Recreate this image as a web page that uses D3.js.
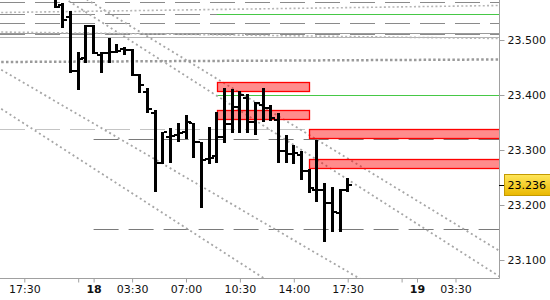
<!DOCTYPE html>
<html>
<head>
<meta charset="utf-8">
<script src="https://cdn.jsdelivr.net/npm/d3@7/dist/d3.min.js"></script>
<style>
  html, body { margin: 0; padding: 0; background: #fff; }
  svg { display: block; }
</style>
</head>
<body>
<svg id="chart" width="550" height="300"></svg>
<script>
// 30 minute bars
const barTimes = [
  "17 19:30", "17 20:00", "17 20:30", "17 21:00", "17 21:30",
  "18 01:00", "18 01:30", "18 02:00", "18 02:30", "18 03:00", "18 03:30",
  "18 04:00", "18 04:30", "18 05:00", "18 05:30", "18 06:00", "18 06:30",
  "18 07:00", "18 07:30", "18 08:00", "18 08:30", "18 09:00", "18 09:30",
  "18 10:00", "18 10:30", "18 11:00", "18 11:30", "18 12:00", "18 12:30",
  "18 13:00", "18 13:30", "18 14:00", "18 14:30", "18 15:00", "18 15:30",
  "18 16:00", "18 16:30", "18 17:00", "18 17:30"
];
const opens = [
  23.575, 23.564, 23.542, 23.444, 23.467,
  23.526, 23.473, 23.476, 23.478, 23.484, 23.482,
  23.436, 23.406, 23.367, 23.276, 23.324, 23.327,
  23.333, 23.349, 23.315, 23.284, 23.289, 23.324,
  23.347, 23.378, 23.395, 23.351, 23.382, 23.376,
  23.355, 23.298, 23.293, 23.291, 23.262, 23.227,
  23.227, 23.204, 23.186, 23.227
];
const highs = [
  23.585, 23.567, 23.553, 23.478, 23.527,
  23.527, 23.478, 23.504, 23.493, 23.487, 23.484,
  23.438, 23.413, 23.373, 23.333, 23.340, 23.349,
  23.364, 23.349, 23.315, 23.342, 23.369, 23.413,
  23.411, 23.407, 23.402, 23.387, 23.413, 23.382,
  23.367, 23.327, 23.309, 23.298, 23.265, 23.318,
  23.240, 23.233, 23.229, 23.249
];
const lows = [
  23.558, 23.522, 23.440, 23.409, 23.458,
  23.475, 23.440, 23.458, 23.476, 23.473, 23.435,
  23.404, 23.367, 23.224, 23.275, 23.276, 23.315,
  23.320, 23.286, 23.195, 23.275, 23.276, 23.313,
  23.331, 23.331, 23.331, 23.327, 23.351, 23.353,
  23.276, 23.276, 23.275, 23.246, 23.222, 23.206,
  23.133, 23.151, 23.151, 23.224
];
const closes = [
  23.560, 23.536, 23.444, 23.466, 23.526,
  23.476, 23.476, 23.478, 23.480, 23.482, 23.436,
  23.418, 23.375, 23.276, 23.333, 23.326, 23.331,
  23.351, 23.315, 23.282, 23.286, 23.324, 23.347,
  23.378, 23.400, 23.351, 23.386, 23.376, 23.358,
  23.298, 23.293, 23.295, 23.262, 23.231, 23.227,
  23.204, 23.187, 23.227, 23.236
];
const lastPrice = 23.236;

// trading sessions (day, first bar, last slot shown)
const sessions = [["17", "16:00", "21:30"], ["18", "01:00", "21:30"], ["19", "01:00", "07:00"]];

// axis ticks
const xTickTimes = ["17 17:30", "17 21:00", "18 01:00", "18 03:30", "18 07:00", "18 10:30",
  "18 14:00", "18 17:30", "18 21:00", "19 01:00", "19 03:30"];
const xTickLabels = ["17:30", "", "18", "03:30", "07:00", "10:30", "14:00", "17:30", "", "19", "03:30"];
const yTicks = [23.1, 23.2, 23.3, 23.4, 23.5];

// price levels
const dashedLevels = [23.5685, 23.5467, 23.5304, 23.5104];
const solidLevels = [23.5122];
const paleSolidLevels = [23.5055];
const greenLevels = [23.5467, 23.4];
const greenFrom = "18 09:00";
const supportLevels = [23.32, 23.1564];
const supportFrom = "18 01:00";
const paleDashedLevels = [23.3382];
const paleDashedTo = "18 15:00";

// zones
const zoneTop = [23.4236, 23.3727, 23.3382, 23.2836];
const zoneBottom = [23.4073, 23.3564, 23.3218, 23.2673];
const zoneFrom = ["18 09:00", "18 09:00", "18 15:00", "18 15:00"];
const zoneTo = ["18 15:00", "18 15:00", "19 07:00", "19 07:00"];

// trend lines, price at first and last slot
const trendFrom = [23.6685, 23.6492, 23.4460, 23.3749];
const trendTo = [23.1056, 23.0585, 22.9076, 22.7789];
const flatFrom = [23.550, 23.5145];
const flatTo = [23.563, 23.5025];
const heavyFrom = [23.460];
const heavyTo = [23.4647];

const slots = [];
sessions.forEach(([day, from, to]) => {
  const toMin = (s) => +s.slice(0, 2) * 60 + +s.slice(3);
  for (let m = toMin(from); m <= toMin(to); m += 30) {
    slots.push(day + " " + String(Math.floor(m / 60)).padStart(2, "0") + ":" + String(m % 60).padStart(2, "0"));
  }
});
const firstSlot = slots[0];
const lastSlot = slots[slots.length - 1];

const plotW = 499;
const plotH = 278;
const font = "'DejaVu Sans', sans-serif";

const svg = d3.select("#chart");

const x = d3.scalePoint().domain(slots).range([1.2, 509.4]);
const y = d3.scaleLinear().domain([23.1, 23.5]).range([260, 40]);
const crisp = (v) => Math.round(v) + 0.5;

svg.append("defs").append("clipPath").attr("id", "plot")
  .append("rect").attr("width", plotW).attr("height", plotH);

const g = svg.append("g").attr("clip-path", "url(#plot)");

function hline(v, from, to, stroke, dash, width) {
  g.append("line")
    .attr("x1", from ? x(from) : 0)
    .attr("x2", to ? x(to) : plotW)
    .attr("y1", crisp(y(v)))
    .attr("y2", crisp(y(v)))
    .attr("stroke", stroke)
    .attr("stroke-width", width || 1)
    .attr("stroke-dasharray", dash || null);
}

// Levels
dashedLevels.forEach((v) => hline(v, null, null, "#8a8a8a", "25,10"));
solidLevels.forEach((v) => hline(v, null, null, "#9a9a9a"));
paleSolidLevels.forEach((v) => hline(v, null, null, "#b4b4b4"));
paleDashedLevels.forEach((v) => hline(v, null, paleDashedTo, "#c4c4c4", "25,10"));
supportLevels.forEach((v) => hline(v, supportFrom, null, "#7a7a7a", "25,10"));
greenLevels.forEach((v) => hline(v, greenFrom, null, "#46c846"));

// Trend lines
function sloped(a, b, stroke, width, dash) {
  g.append("line")
    .attr("x1", x(firstSlot)).attr("y1", y(a))
    .attr("x2", x(lastSlot)).attr("y2", y(b))
    .attr("stroke", stroke)
    .attr("stroke-width", width)
    .attr("stroke-dasharray", dash);
}
trendFrom.forEach((v, i) => sloped(v, trendTo[i], "#a6a6a6", 1.8, "2,3"));
flatFrom.forEach((v, i) => sloped(v, flatTo[i], "#b6b6b6", 1.6, "2,2.3"));
heavyFrom.forEach((v, i) => sloped(v, heavyTo[i], "#9a9a9a", 2.5, "2.5,2.3"));

// Zones
g.append("g")
  .selectAll("rect")
  .data(zoneTop)
  .join("rect")
  .attr("x", (d, i) => crisp(x(zoneFrom[i])))
  .attr("y", (d) => crisp(y(d)))
  .attr("width", (d, i) => Math.round(x(zoneTo[i]) - x(zoneFrom[i])))
  .attr("height", (d, i) => Math.round(y(zoneBottom[i]) - y(d)))
  .attr("fill", "rgba(255,0,0,0.45)")
  .attr("stroke", "#ff0000")
  .attr("stroke-width", 1.3);

// Bars
const bars = g.append("g").attr("fill", "#000").attr("shape-rendering", "crispEdges");
barTimes.forEach((t, i) => {
  const left = Math.round(x(t) - 1.5);
  const yo = Math.round(y(opens[i]) - 1);
  const yc = Math.round(y(closes[i]) - 1);
  bars.append("rect")
    .attr("x", left).attr("width", 3)
    .attr("y", Math.round(y(highs[i]))).attr("height", Math.round(y(lows[i]) - y(highs[i])));
  bars.append("rect")
    .attr("x", left - 3).attr("width", 3)
    .attr("y", yo).attr("height", 2);
  bars.append("rect")
    .attr("x", left + 3).attr("width", 3)
    .attr("y", yc).attr("height", 2);
});

// Bottom axis
const xAxis = svg.append("g")
  .attr("transform", `translate(0,${plotH + 0.5})`)
  .call(d3.axisBottom(x).tickValues(xTickTimes)
    .tickFormat((d, i) => xTickLabels[i]).tickSize(4).tickPadding(3));
xAxis.select(".domain").remove();
xAxis.selectAll("line").attr("stroke", "#a0a0a0");
xAxis.selectAll("text")
  .attr("font-family", font).attr("font-size", 11).attr("fill", "#111")
  .attr("font-weight", (d, i) => (xTickLabels[i].length === 2 ? "bold" : null));
svg.append("line")
  .attr("x1", 0).attr("x2", plotW + 0.5)
  .attr("y1", plotH + 0.5).attr("y2", plotH + 0.5)
  .attr("stroke", "#a0a0a0");

// Right axis
const yAxis = svg.append("g")
  .attr("transform", `translate(${plotW + 0.5},0)`)
  .call(d3.axisRight(y).tickValues(yTicks).tickFormat(d3.format(".3f")).tickSize(5).tickPadding(3));
yAxis.select(".domain").remove();
yAxis.selectAll("line").attr("stroke", "#a0a0a0");
yAxis.selectAll("text")
  .attr("font-family", font).attr("font-size", 11).attr("fill", "#111");
svg.append("line")
  .attr("x1", plotW + 0.5).attr("x2", plotW + 0.5)
  .attr("y1", 0).attr("y2", plotH + 0.5)
  .attr("stroke", "#a0a0a0");

// Last price tag
const grad = svg.select("defs").append("linearGradient")
  .attr("id", "tag").attr("x1", 0).attr("x2", 0).attr("y1", 0).attr("y2", 1);
grad.append("stop").attr("offset", 0).attr("stop-color", "#ffe65a");
grad.append("stop").attr("offset", 1).attr("stop-color", "#eab800");
const ly = y(lastPrice);
svg.append("line")
  .attr("x1", plotW).attr("x2", plotW + 6)
  .attr("y1", crisp(ly)).attr("y2", crisp(ly))
  .attr("stroke", "#000");
svg.append("rect")
  .attr("x", 504.5).attr("y", Math.round(ly) - 10.5)
  .attr("width", 46).attr("height", 21)
  .attr("fill", "url(#tag)").attr("stroke", "#c49a00");
svg.append("text")
  .attr("x", 507.5).attr("y", ly)
  .attr("dy", "0.35em")
  .attr("font-family", font).attr("font-size", 11).attr("fill", "#000")
  .text(d3.format(".3f")(lastPrice));
</script>
</body>
</html>
